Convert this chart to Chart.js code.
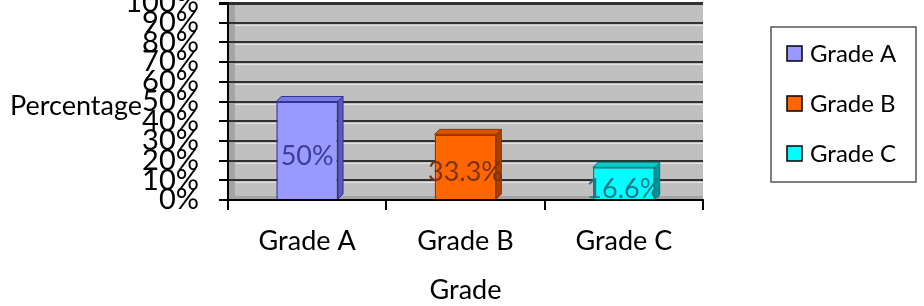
<!DOCTYPE html>
<html><head><meta charset="utf-8">
<script src="https://cdn.jsdelivr.net/npm/chart.js@4/dist/chart.umd.min.js"></script>
<style>html,body{margin:0;padding:0;background:#fff}#wrap{width:924px;height:306px;position:relative}</style>
</head><body><div id="wrap"><canvas id="c" width="924" height="306"></canvas></div>
<script>
const categories = ['Grade A', 'Grade B', 'Grade C'];
const percentages = [50, 33.3, 16.6];
const yTickValues = [0, 10, 20, 30, 40, 50, 60, 70, 80, 90, 100];
const xTitle = 'Grade';
const yTitle = 'Percentage';

const barColors = ['#9999ff', '#ff6600', '#00ffff'];
const barBorders = ['#333399', '#993300', '#007f7f'];
const topColors = ['#7a7ae0', '#d85400', '#00cccc'];
const sideColors = ['#5c5cb8', '#a84000', '#009999'];
const labelColors = ['#3d3d99', '#7a3210', '#1a7a8a'];
const FONT = 'Lato, "Open Sans", sans-serif';

const backdrop = {
  id: 'backdrop',
  beforeDraw(chart) {
    const {ctx, chartArea: a} = chart;
    ctx.save();
    ctx.fillStyle = '#c0c0c0';
    ctx.fillRect(a.left, a.top, a.right - a.left, a.bottom - a.top);
    ctx.fillStyle = '#a4a4a4';
    ctx.fillRect(a.left, a.top, 7, a.bottom - a.top);
    ctx.fillRect(a.left, a.bottom - 4, a.right - a.left, 4);
    ctx.restore();
  },
  beforeDatasetsDraw(chart) {
    const {ctx, chartArea: a, scales: {y}} = chart;
    ctx.save();
    ctx.strokeStyle = '#e4e4e4';
    ctx.lineWidth = 1;
    yTickValues.forEach(v => {
      if (v === 0 || v === 100) return;
      const py = Math.round(y.getPixelForValue(v)) + 2.5;
      ctx.beginPath(); ctx.moveTo(a.left + 7, py); ctx.lineTo(a.right, py); ctx.stroke();
    });
    ctx.restore();
  }
};

const depth = {
  id: 'depth',
  afterDatasetsDraw(chart) {
    const {ctx} = chart;
    const meta = chart.getDatasetMeta(0);
    const d = 5;
    ctx.save();
    meta.data.forEach((bar, i) => {
      const w = bar.width, l = bar.x - w / 2, r = bar.x + w / 2, t = bar.y, b = bar.base;
      ctx.fillStyle = topColors[i];
      ctx.strokeStyle = barBorders[i];
      ctx.lineWidth = 1;
      ctx.beginPath();
      ctx.moveTo(l, t); ctx.lineTo(l + d, t - d); ctx.lineTo(r + d, t - d); ctx.lineTo(r, t); ctx.closePath();
      ctx.fill(); ctx.stroke();
      ctx.fillStyle = sideColors[i];
      ctx.beginPath();
      ctx.moveTo(r, t); ctx.lineTo(r + d, t - d); ctx.lineTo(r + d, b - d); ctx.lineTo(r, b); ctx.closePath();
      ctx.fill(); ctx.stroke();
      ctx.fillStyle = labelColors[i];
      ctx.font = '27px ' + FONT;
      ctx.textAlign = 'center';
      ctx.textBaseline = 'middle';
      ctx.fillText(chart.data.datasets[0].data[i] + '%', bar.x, (t + b) / 2 + 6);
    });
    ctx.restore();
  }
};

const extras = {
  id: 'extras',
  afterDraw(chart) {
    const {ctx} = chart;
    ctx.save();
    ctx.fillStyle = '#000';
    ctx.font = '27px ' + FONT;
    ctx.textAlign = 'left';
    ctx.textBaseline = 'middle';
    ctx.fillText(chart.options.scales.y.title.text, 10, 106);
    ctx.strokeStyle = '#555';
    ctx.lineWidth = 1.5;
    ctx.strokeRect(771, 27, 145, 155);
    ctx.font = '24px ' + FONT;
    chart.data.labels.forEach((lab, i) => {
      const cy = 53 + i * 50;
      ctx.fillStyle = barColors[i];
      ctx.fillRect(787, cy - 7, 15, 15);
      ctx.strokeStyle = '#000';
      ctx.lineWidth = 1.5;
      ctx.strokeRect(787, cy - 7, 15, 15);
      ctx.fillStyle = '#000';
      ctx.fillText(lab, 810, cy + 1);
    });
    ctx.restore();
  }
};

new Chart(document.getElementById('c'), {
  type: 'bar',
  data: {
    labels: categories,
    datasets: [{
      label: yTitle,
      data: percentages,
      backgroundColor: barColors,
      borderColor: barBorders,
      borderWidth: 1.5,
      categoryPercentage: 1,
      barPercentage: 0.39
    }]
  },
  options: {
    responsive: false,
    animation: false,
    devicePixelRatio: 1,
    layout: {padding: {top: 3, right: 221, bottom: 0, left: 0}},
    plugins: {legend: {display: false}, tooltip: {enabled: false}},
    scales: {
      y: {
        min: 0, max: 100,
        afterBuildTicks(s) { s.ticks = yTickValues.map(v => ({value: v})); },
        afterFit(s) { s.width = 228; s.paddingTop = 0; s.paddingBottom = 0; },
        title: {display: false, text: yTitle},
        ticks: {
          autoSkip: false,
          callback: v => v + '%',
          color: '#000',
          font: {family: FONT, size: 29},
          padding: 20
        },
        grid: {
          color: '#303030',
          tickColor: '#000',
          lineWidth: c => (c.tick && c.tick.value === 100) ? 3 : 2,
          tickLength: 9
        },
        border: {display: true, color: '#000', width: 2}
      },
      x: {
        afterFit(s) { s.height = 106; s.paddingLeft = 0; s.paddingRight = 0; },
        title: {display: true, text: xTitle, color: '#000', font: {family: FONT, size: 27}, padding: {top: 0, bottom: 0}},
        ticks: {color: '#000', font: {family: FONT, size: 27}, padding: 15},
        grid: {drawOnChartArea: false, drawTicks: true, tickLength: 10, tickColor: '#000', lineWidth: 2},
        border: {display: true, color: '#000', width: 2}
      }
    }
  },
  plugins: [backdrop, depth, extras]
});
</script>
</body></html>
